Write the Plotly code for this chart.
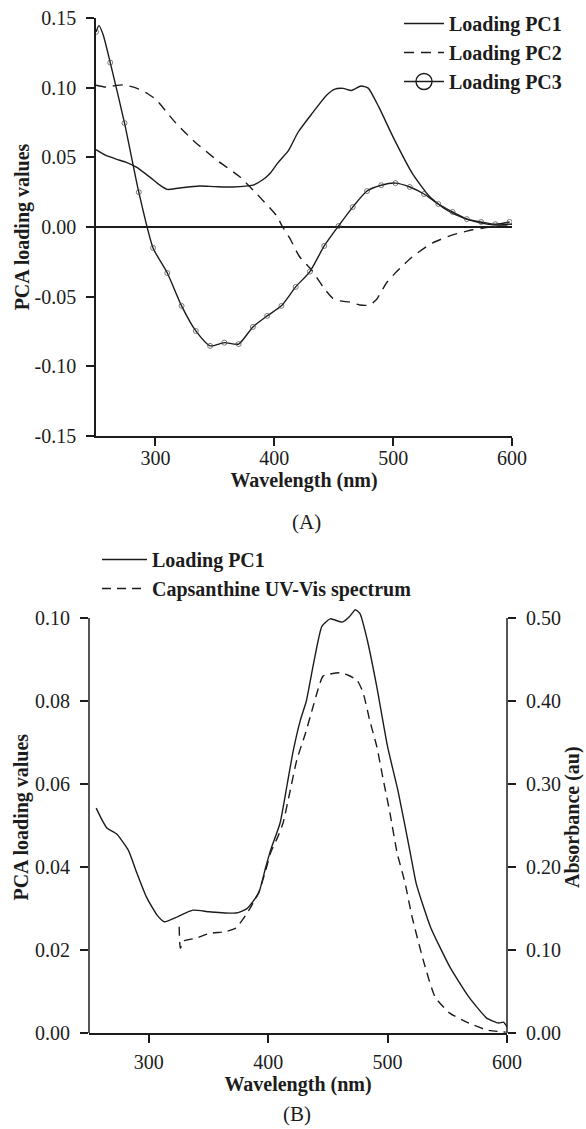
import plotly.graph_objects as go

# ---------------- Panel A data ----------------
wl_pc1_a = [250, 258, 267, 275, 284, 295, 303, 310, 320, 337, 350, 365, 382, 390, 396, 403,
            412, 420, 432, 444, 451, 458, 465, 473, 479, 488, 500, 516, 531, 545, 559, 573,
            587, 598, 600]
pc1_a = [0.0555, 0.0515, 0.0487, 0.0466, 0.043, 0.036, 0.0305, 0.027, 0.028, 0.0294, 0.029,
         0.0287, 0.030, 0.0337, 0.038, 0.046, 0.055, 0.068, 0.0817, 0.0946, 0.099, 0.0995,
         0.098, 0.1012, 0.0997, 0.086, 0.0645, 0.0387, 0.0215, 0.0122, 0.0065, 0.003,
         0.0014, 0.002, 0.002]

wl_pc2_a = [250, 259, 266, 273, 284, 293, 301, 315, 331.5, 351.7, 371, 385, 402, 407, 413,
            421, 431.5, 441, 449, 455, 464, 472, 480, 486, 494.5, 503, 516, 533, 550, 567,
            583, 600]
pc2_a = [0.1018, 0.1004, 0.1015, 0.102, 0.0997, 0.096, 0.091, 0.0767, 0.0624, 0.048, 0.036,
         0.024, 0.008, 0.0, -0.008, -0.021, -0.031, -0.043, -0.051, -0.053, -0.054, -0.056,
         -0.056, -0.052, -0.040, -0.032, -0.0215, -0.0115, -0.0057, -0.002, 0.0, 0.001]

wl_pc3_a = [250, 252.5, 256, 262, 274, 286, 298, 310, 322, 334, 346, 358, 370, 382, 394, 406,
            418, 430, 442, 454, 466, 478, 490, 502, 514, 526, 538, 550, 562, 574, 586, 598]
pc3_a = [0.140, 0.1445, 0.138, 0.118, 0.0746, 0.025, -0.015, -0.033, -0.0566, -0.0746,
         -0.0853, -0.083, -0.084, -0.0717, -0.0638, -0.0566, -0.043, -0.032, -0.0136, 0.0007,
         0.0143, 0.0258, 0.030, 0.0315, 0.0287, 0.0237, 0.0165, 0.0108, 0.0057, 0.0036,
         0.002, 0.0036]
pc3_marker_step = 12  # a circle every 12 nm starting at 250 nm

# ---------------- Panel B data ----------------
wl_pc1_b = [256, 261, 265, 273, 283, 290, 298, 307, 313, 324, 337, 351, 373, 382, 392, 398,
            402, 410, 416, 421, 427, 432, 438, 445, 452, 462, 468, 473, 477, 483, 491, 500,
            509, 519, 524, 536, 552, 568, 583, 593, 597, 600]
pc1_b = [0.0542, 0.0513, 0.0494, 0.048, 0.044, 0.0386, 0.0328, 0.0284, 0.0268, 0.028, 0.0296,
         0.0292, 0.0289, 0.0299, 0.0337, 0.040, 0.044, 0.0506, 0.060, 0.068, 0.0754, 0.080,
         0.089, 0.098, 0.0998, 0.099, 0.1003, 0.102, 0.101, 0.0947, 0.0834, 0.069, 0.058,
         0.0434, 0.036, 0.0255, 0.016, 0.0087, 0.0036, 0.0024, 0.0026, 0.0015]

wl_caps = [325.5, 326.5, 329.5, 339, 351, 364, 373, 382.5, 392, 398, 402, 408, 412.5, 418,
           424, 431, 437, 442, 446, 460, 467, 474.5, 479.5, 485, 491, 496, 502, 508, 514.6,
           520.5, 530.6, 539.8, 552, 568, 583, 599]
caps = [0.128, 0.102, 0.111, 0.114, 0.120, 0.122, 0.1265, 0.1446, 0.169, 0.196, 0.217, 0.236,
        0.253, 0.289, 0.329, 0.36, 0.39, 0.415, 0.43, 0.434, 0.431, 0.425, 0.410, 0.377,
        0.345, 0.308, 0.265, 0.217, 0.181, 0.140, 0.084, 0.0434, 0.024, 0.012, 0.0036, 0.001]

# ---------------- tick labels ----------------
x_ticks = [300, 400, 500, 600]
ya_ticks = [-0.15, -0.10, -0.05, 0.00, 0.05, 0.10, 0.15]
ya_labels = ["-0.15", "-0.10", "-0.05", "0.00", "0.05", "0.10", "0.15"]
yb_ticks = [0.00, 0.02, 0.04, 0.06, 0.08, 0.10]
yb_labels = ["0.00", "0.02", "0.04", "0.06", "0.08", "0.10"]
yc_ticks = [0.0, 0.1, 0.2, 0.3, 0.4, 0.5]
yc_labels = ["0.00", "0.10", "0.20", "0.30", "0.40", "0.50"]

W, H = 586, 1129
INK = "#1c1c1c"
FONT = "Liberation Serif"

fig = go.Figure()

# Panel A traces
fig.add_trace(go.Scatter(x=wl_pc1_a, y=pc1_a, mode="lines", name="Loading PC1",
                         line=dict(color=INK, width=1.4, shape="spline", smoothing=0.6),
                         xaxis="x", yaxis="y", legend="legend"))
fig.add_trace(go.Scatter(x=wl_pc2_a, y=pc2_a, mode="lines", name="Loading PC2",
                         line=dict(color=INK, width=1.4, dash="10px,7px", shape="spline",
                                   smoothing=0.6),
                         xaxis="x", yaxis="y", legend="legend"))
sizes = [5 if (w - 250) % pc3_marker_step == 0 else 0 for w in wl_pc3_a]
fig.add_trace(go.Scatter(x=wl_pc3_a, y=pc3_a, mode="lines+markers", name="Loading PC3",
                         line=dict(color=INK, width=1.4, shape="spline", smoothing=0.6),
                         marker=dict(symbol="circle-open", size=sizes, color="#444",
                                     line=dict(width=1)),
                         xaxis="x", yaxis="y", showlegend=False))
# legend entry for PC3 (large open circle on a line)
fig.add_trace(go.Scatter(x=[None], y=[None], mode="lines+markers", name="Loading PC3",
                         line=dict(color=INK, width=1.4),
                         marker=dict(symbol="circle-open", size=16, color=INK,
                                     line=dict(width=1.4)),
                         xaxis="x", yaxis="y", legend="legend"))

# Panel B traces
fig.add_trace(go.Scatter(x=wl_pc1_b, y=pc1_b, mode="lines", name="Loading PC1",
                         line=dict(color=INK, width=1.4, shape="spline", smoothing=0.5),
                         xaxis="x2", yaxis="y2", legend="legend2"))
fig.add_trace(go.Scatter(x=wl_caps, y=caps, mode="lines", name="Capsanthine UV-Vis spectrum",
                         line=dict(color=INK, width=1.4, dash="9px,6px", shape="spline",
                                   smoothing=0.5),
                         xaxis="x2", yaxis="y3", legend="legend2"))

tickfont = dict(family=FONT, size=20, color=INK)
titlefont = dict(family=FONT, size=20, color=INK, weight="bold")
axis_common = dict(linecolor=INK, linewidth=1.5, ticks="outside", ticklen=8,
                   tickwidth=1.5, tickcolor=INK, showgrid=False, tickfont=tickfont)


def px_x(p):
    return p / W


def px_y(p):
    return 1 - p / H


# bottom panel: leave a little head-room above 0.10 so the PC1 peak is not clipped
B_TOP, B_BOT = 618, 1033
yb_max = 0.104
b_top_px = B_BOT - (B_BOT - B_TOP) * yb_max / 0.10

fig.update_layout(
    width=W, height=H,
    margin=dict(l=0, r=0, t=0, b=0, autoexpand=False),
    paper_bgcolor="white", plot_bgcolor="white",
    hovermode=False,
    xaxis=dict(domain=[px_x(96), px_x(512)], range=[250, 600], tickvals=x_ticks,
               anchor="y", zeroline=False, showline=True, ticklabelstandoff=-5,
               title=dict(text="Wavelength (nm)", font=titlefont, standoff=4),
               **axis_common),
    yaxis=dict(domain=[px_y(436), px_y(18)], range=[-0.15, 0.15], tickvals=ya_ticks,
               ticktext=ya_labels, anchor="x", zeroline=True, zerolinecolor=INK,
               zerolinewidth=1.5, showline=True, ticklabelstandoff=6,
               title=dict(text="PCA loading values", font=titlefont, standoff=0),
               **axis_common),
    xaxis2=dict(domain=[px_x(89), px_x(507)], range=[250, 600], tickvals=x_ticks,
                anchor="y2", zeroline=False, showline=True, ticklabelstandoff=2,
                title=dict(text="Wavelength (nm)", font=titlefont, standoff=2),
                **axis_common),
    yaxis2=dict(domain=[px_y(B_BOT), px_y(b_top_px)], range=[0, yb_max], tickvals=yb_ticks,
                ticktext=yb_labels, anchor="x2", zeroline=False, showline=False,
                ticklabelstandoff=6,
                title=dict(text="PCA loading values", font=titlefont, standoff=0),
                **axis_common),
    yaxis3=dict(range=[0, yb_max * 5], tickvals=yc_ticks, ticktext=yc_labels,
                overlaying="y2", anchor="x2", side="right", zeroline=False, showline=False,
                ticklabelstandoff=6,
                title=dict(text="Absorbance (au)", font=titlefont, standoff=4),
                **axis_common),
    legend=dict(x=px_x(399), y=px_y(4), xanchor="left", yanchor="top",
                font=dict(family=FONT, size=20, color=INK, weight="bold"),
                bgcolor="rgba(0,0,0,0)", itemwidth=40, traceorder="normal"),
    legend2=dict(x=px_x(97), y=px_y(540), xanchor="left", yanchor="top",
                 font=dict(family=FONT, size=20, color=INK, weight="bold"),
                 bgcolor="rgba(0,0,0,0)", itemwidth=45, traceorder="normal"),
    annotations=[
        dict(text="(A)", x=px_x(306), y=px_y(522), xref="paper", yref="paper",
             xanchor="center", yanchor="middle", showarrow=False, borderpad=0,
             font=dict(family=FONT, size=21, color=INK)),
        dict(text="(B)", x=px_x(297), y=px_y(1114), xref="paper", yref="paper",
             xanchor="center", yanchor="middle", showarrow=False, borderpad=0,
             font=dict(family=FONT, size=21, color=INK)),
    ],
    shapes=[
        # left and right axis lines of panel B, stopping at the top tick
        dict(type="line", xref="x2 domain", x0=0, x1=0, yref="y2", y0=0, y1=0.10,
             line=dict(color=INK, width=1.5)),
        dict(type="line", xref="x2 domain", x0=1, x1=1, yref="y3", y0=0, y1=0.50,
             line=dict(color=INK, width=1.5)),
    ],
)

fig.write_html("out.html",
               config={"displayModeBar": False},
               post_script="document.body.style.margin='0';"
                           "document.documentElement.style.overflow='hidden';")
